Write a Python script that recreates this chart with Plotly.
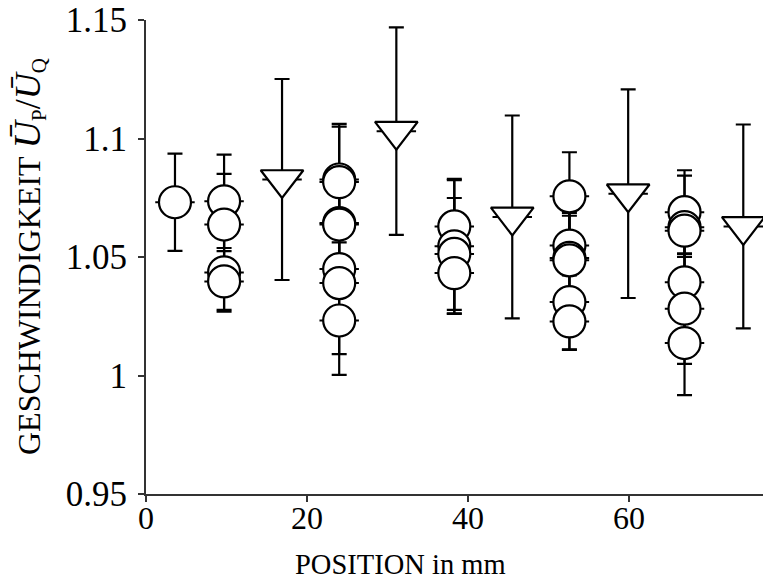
import plotly.graph_objects as go

# ---- data ----
# circle series (several measurements per position)
circle_x = [3.6,
            9.7, 9.7, 9.7, 9.7,
            24.0, 24.0, 24.0, 24.0, 24.0, 24.0, 24.0,
            38.3, 38.3, 38.3, 38.3,
            52.6, 52.6, 52.6, 52.6, 52.6, 52.6,
            66.9, 66.9, 66.9, 66.9, 66.9, 66.9]
circle_y = [1.0731,
            1.0735, 1.0637, 1.0435, 1.0397,
            1.0827, 1.0816, 1.0643, 1.0637, 1.0449, 1.0390, 1.0232,
            1.0629, 1.0545, 1.0513, 1.0432,
            1.0756, 1.0548, 1.0496, 1.0486, 1.0310, 1.0228,
            1.0689, 1.0626, 1.0611, 1.0393, 1.0282, 1.0137]
circle_err = [0.0205,
              0.0197, 0.0214, 0.0158, 0.0128,
              0.0235, 0.0234, 0.0210, 0.0210, 0.0113, 0.0300, 0.0229,
              0.0195, 0.0285, 0.0236, 0.0170,
              0.0186, 0.0126, 0.0200, 0.0200, 0.0200, 0.0120,
              0.0177, 0.0217, 0.0111, 0.0200, 0.0233, 0.0220]

# triangle series
triangle_x = [16.9, 31.1, 45.5, 59.9, 74.2]
triangle_y = [1.0827, 1.1031, 1.0669, 1.0767, 1.0629]
triangle_err = [0.0424, 0.0438, 0.0428, 0.0440, 0.0430]

# horizontal position uncertainty (mm)
x_err = 2.45

x_ticks = [0, 20, 40, 60]
y_ticks = [0.95, 1.0, 1.05, 1.1, 1.15]
y_tick_text = ["0.95", "1", "1.05", "1.1", "1.15"]

x_title = "POSITION in mm"
y_title = ("GESCHWINDIGKEIT&nbsp;"
           "<span style='font-size:38px'><i>Ū</i></span>"
           "<span style='font-size:30px'><sub>P</sub></span>"
           "<span style='font-size:36px'>/<i>Ū</i></span>"
           "<span style='font-size:30px'><sub>Q</sub></span>")

FONT = "Liberation Serif"
AX = "#333333"

fig = go.Figure()

fig.add_trace(go.Scatter(
    x=circle_x, y=circle_y, mode="markers",
    marker=dict(symbol="circle", size=32, color="white",
                line=dict(color="black", width=2.2)),
    error_y=dict(type="data", array=circle_err, visible=True,
                 color="black", thickness=2.2, width=7.5),
    error_x=dict(type="constant", value=x_err, visible=True,
                 color="black", thickness=2, width=0),
    cliponaxis=False, hoverinfo="x+y",
))

fig.add_trace(go.Scatter(
    x=triangle_x, y=triangle_y, mode="markers",
    marker=dict(symbol="triangle-down", size=37, color="white",
                line=dict(color="black", width=2.2)),
    error_y=dict(type="data", array=triangle_err, visible=True,
                 color="black", thickness=2.2, width=7.5),
    error_x=dict(type="constant", value=x_err, visible=True,
                 color="black", thickness=2, width=0),
    cliponaxis=False, hoverinfo="x+y",
))

fig.update_layout(
    width=763, height=588,
    margin=dict(l=146, r=0, t=20, b=94),
    plot_bgcolor="white", paper_bgcolor="white",
    showlegend=False,
    font=dict(family=FONT, size=28, color="black"),
    annotations=[
        dict(text=x_title, xref="paper", yref="paper",
             x=0.4117, y=-0.1477, xanchor="center", yanchor="middle",
             showarrow=False, font=dict(family=FONT, size=28.5, color="black")),
        dict(text=y_title, xref="paper", yref="paper", textangle=-90,
             x=-0.1912, y=0.50, xanchor="center", yanchor="middle",
             showarrow=False, font=dict(family=FONT, size=32, color="black")),
    ],
)

fig.update_xaxes(
    range=[0, 76.65], tickmode="array", tickvals=x_ticks,
    ticks="outside", ticklen=6, tickwidth=2, tickcolor=AX,
    showline=True, linecolor=AX, linewidth=2,
    showgrid=False, zeroline=False,
    tickfont=dict(family=FONT, size=32, color="black"),
    ticklabelstandoff=-11,
)

fig.update_yaxes(
    range=[0.95, 1.15], tickmode="array", tickvals=y_ticks, ticktext=y_tick_text,
    ticks="outside", ticklen=6, tickwidth=2, tickcolor=AX,
    showline=True, linecolor=AX, linewidth=2,
    showgrid=False, zeroline=False,
    tickfont=dict(family=FONT, size=35, color="black"),
    ticklabelstandoff=4,
)

fig.write_html("out.html", config={"displayModeBar": False},
               post_script="document.body.style.margin='0px';")
